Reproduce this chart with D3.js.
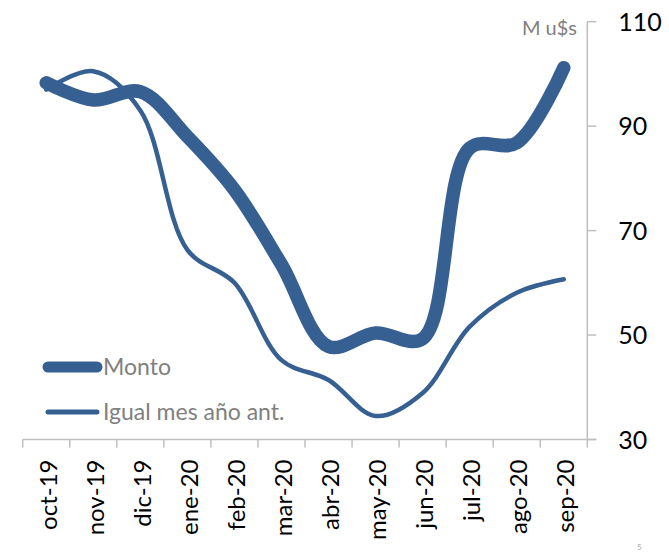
<!DOCTYPE html>
<html>
<head>
<meta charset="utf-8">
<script src="https://cdn.jsdelivr.net/npm/d3@7"></script>
<style>
    html, body { margin: 0; padding: 0; background: #fff; }
    svg { display: block; font-family: Lato, "Open Sans", sans-serif; }
</style>
</head>
<body>
<div id="chart"></div>
<script>
/*
 * Chart data.
 */
var months = ['oct-19', 'nov-19', 'dic-19', 'ene-20', 'feb-20', 'mar-20',
    'abr-20', 'may-20', 'jun-20', 'jul-20', 'ago-20', 'sep-20'];
var monto = [98.3, 95.0, 96.6, 88.0, 77.8, 63.5, 47.8, 50.4, 49.3, 85.8, 86.8, 101.2];
var igualMes = [97.0, 100.5, 93.0, 66.3, 60.0, 45.2, 41.4, 34.5, 38.9, 51.6, 58.1, 60.7];
var yTicks = [30, 50, 70, 90, 110];
var seriesNames = ['Monto', 'Igual mes año ant.'];
var unitLabel = 'M u$s';

/*
 * Styles.
 */
var width = 669, height = 552;
var color = '#376092';
var axisColor = '#bfbfbf';
var grey = '#808080';

var svg = d3.select('#chart').append('svg')
    .attr('width', width)
    .attr('height', height);

/*
 * Scales.
 */
var x = d3.scaleBand()
    .domain(months)
    .range([22.7, 587.3]);

var y = d3.scaleLinear()
    .domain([30, 110])
    .range([439.5, 21.7]);

var cx = function(i) { return x(months[i]) + x.bandwidth() / 2; };

/*
 * Lines, smoothed like the spreadsheet original.
 */
var line = d3.line()
    .x(function(d, i) { return cx(i); })
    .y(function(d) { return y(d); })
    .curve(d3.curveCatmullRom.alpha(0.5));

svg.append('path')
    .datum(igualMes)
    .attr('d', line)
    .attr('fill', 'none')
    .attr('stroke', color)
    .attr('stroke-width', 4.5)
    .attr('stroke-linecap', 'round')
    .attr('stroke-linejoin', 'round');

svg.append('path')
    .datum(monto)
    .attr('d', line)
    .attr('fill', 'none')
    .attr('stroke', color)
    .attr('stroke-width', 13.5)
    .attr('stroke-linecap', 'round')
    .attr('stroke-linejoin', 'round');

/*
 * X axis.
 */
var xAxis = svg.append('g')
    .attr('transform', 'translate(0,' + y(30) + ')');

xAxis.append('line')
    .attr('x1', x.range()[0])
    .attr('x2', x.range()[1] + 9)
    .attr('stroke', axisColor)
    .attr('stroke-width', 1.5);

xAxis.selectAll('.tick')
    .data(months.concat(['end']))
    .enter().append('line')
    .attr('x1', function(d, i) { return x.range()[0] + i * x.step(); })
    .attr('x2', function(d, i) { return x.range()[0] + i * x.step(); })
    .attr('y1', 0)
    .attr('y2', 8)
    .attr('stroke', axisColor)
    .attr('stroke-width', 1.5);

xAxis.selectAll('text')
    .data(months)
    .enter().append('text')
    .attr('transform', function(d, i) {
        return 'translate(' + (cx(i) + 2) + ',20) rotate(-90)';
    })
    .attr('dy', '0.35em')
    .attr('text-anchor', 'end')
    .attr('font-size', 24)
    .attr('fill', '#000')
    .text(function(d) { return d; });

/*
 * Y axis, on the right.
 */
var yAxis = svg.append('g')
    .attr('transform', 'translate(' + x.range()[1] + ',0)');

yAxis.append('line')
    .attr('y1', y(110))
    .attr('y2', y(30))
    .attr('stroke', axisColor)
    .attr('stroke-width', 1.5);

yAxis.selectAll('.ytick')
    .data(yTicks)
    .enter().append('line')
    .attr('x1', 0)
    .attr('x2', 9)
    .attr('y1', function(d) { return y(d); })
    .attr('y2', function(d) { return y(d); })
    .attr('stroke', axisColor)
    .attr('stroke-width', 1.5);

yAxis.selectAll('text')
    .data(yTicks)
    .enter().append('text')
    .attr('x', 31)
    .attr('y', function(d) { return y(d); })
    .attr('dy', '0.36em')
    .attr('font-size', 25)
    .attr('fill', '#000')
    .text(function(d) { return d; });

svg.append('text')
    .attr('x', 577)
    .attr('y', 35)
    .attr('text-anchor', 'end')
    .attr('font-size', 20)
    .attr('fill', grey)
    .text(unitLabel);

/*
 * Legend.
 */
var legend = svg.append('g');

legend.selectAll('line')
    .data(seriesNames)
    .enter().append('line')
    .attr('x1', 48)
    .attr('x2', 97)
    .attr('y1', function(d, i) { return 367 + i * 45; })
    .attr('y2', function(d, i) { return 367 + i * 45; })
    .attr('stroke', color)
    .attr('stroke-width', function(d, i) { return i ? 5 : 11; })
    .attr('stroke-linecap', 'round');

legend.selectAll('text')
    .data(seriesNames)
    .enter().append('text')
    .attr('x', 103)
    .attr('y', function(d, i) { return 375 + i * 45; })
    .attr('font-size', 23)
    .attr('fill', grey)
    .text(function(d) { return d; });

/*
 * Page number fragment at the bottom edge.
 */
svg.append('text')
    .attr('x', 637)
    .attr('y', 550)
    .attr('font-size', 8)
    .attr('fill', '#aaa')
    .text('5');
</script>
</body>
</html>
